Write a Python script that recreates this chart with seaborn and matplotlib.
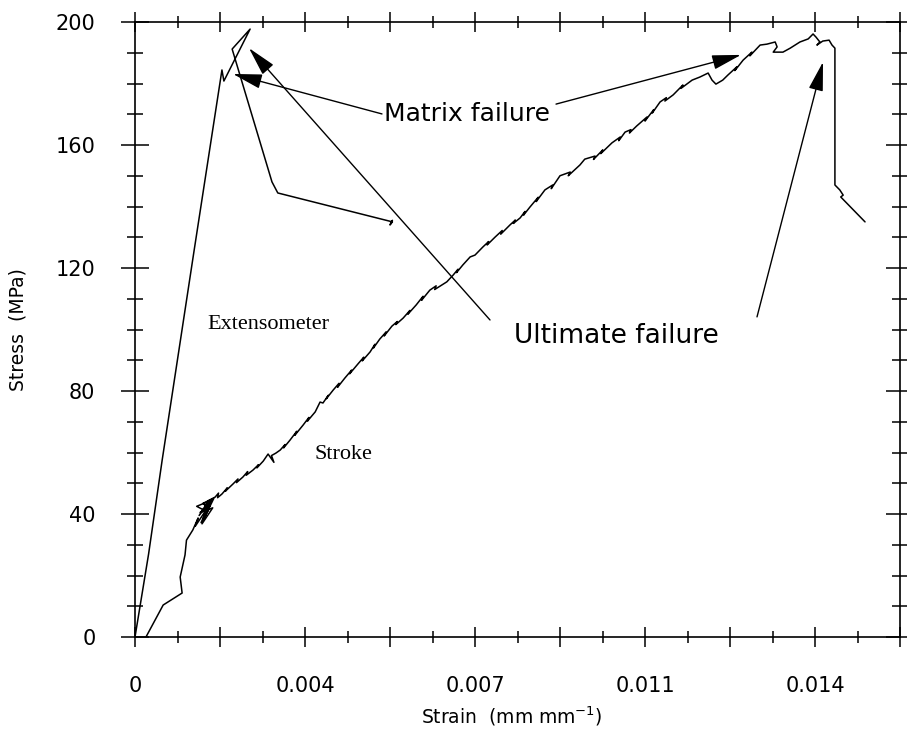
import numpy as np
import pandas as pd
import matplotlib
matplotlib.use("Agg")
import matplotlib.pyplot as plt
import seaborn as sns
from matplotlib.ticker import MultipleLocator

# ---- data ----
ext_strain = [0.0, 0.00028, 0.00056, 0.00122, 0.00179, 0.00183, 0.00237, 0.0020,
              0.00282, 0.00294, 0.0053, 0.00525, 0.0053, 0.00526]
ext_stress = [0.0, 27.0, 57.6, 126.0, 184.4, 180.8, 197.7, 191.2,
              148.0, 144.4, 135.0, 134.0, 135.5, 134.6]

stroke_strain = [
    0.000226, 0.00058, 0.00097, 0.00093, 0.00103, 0.00106, 0.00119, 0.0013,
    0.00124, 0.00145, 0.00127, 0.0015, 0.00132, 0.00158, 0.00136, 0.00152,
    0.0014, 0.00162, 0.00142, 0.00155, 0.00134, 0.0016, 0.00138, 0.00149,
    0.00165, 0.00172, 0.0017, 0.00179, 0.0019, 0.00186, 0.00202, 0.00212,
    0.00209, 0.00222, 0.00232, 0.00229, 0.00243, 0.00254, 0.00251, 0.00264,
    0.00274, 0.00286, 0.00281, 0.0029, 0.00299, 0.00309, 0.00306, 0.00319,
    0.00333, 0.00329, 0.00346, 0.00358, 0.00355, 0.00371, 0.00381, 0.00387,
    0.00398, 0.00394, 0.00408, 0.0042, 0.00417, 0.00432, 0.00446, 0.00442,
    0.00459, 0.00471, 0.00468, 0.00484, 0.00494, 0.00491, 0.00504, 0.00517,
    0.00513, 0.00529, 0.0054, 0.00537, 0.00552, 0.00566, 0.00562, 0.00579,
    0.00593, 0.0059, 0.00607, 0.0062, 0.00617, 0.00642, 0.00655, 0.00665,
    0.00662, 0.00675, 0.0069, 0.007, 0.00716, 0.00728, 0.00725, 0.00741,
    0.00756, 0.00753, 0.00772, 0.00783, 0.00779, 0.00793, 0.00803, 0.008,
    0.00813, 0.0083, 0.00826, 0.00844, 0.0086, 0.00857, 0.00875, 0.00896,
    0.00892, 0.00916, 0.00926, 0.00947, 0.00944, 0.00963, 0.00959, 0.00982,
    0.00999, 0.00996, 0.01009, 0.01021, 0.01018, 0.01033, 0.01054, 0.0105,
    0.01068, 0.01065, 0.01081, 0.01094, 0.01091, 0.01108, 0.01128, 0.01124,
    0.01147, 0.01163, 0.0118, 0.01188, 0.01196, 0.0121, 0.01221, 0.01239,
    0.01235, 0.01252, 0.0127, 0.01266, 0.01287, 0.01301, 0.01318, 0.01322,
    0.01314, 0.01334, 0.01349, 0.01369, 0.01386, 0.01396, 0.01402, 0.0141,
    0.01404, 0.01416, 0.01429, 0.01435, 0.01441, 0.01441, 0.01451, 0.01458,
    0.01453, 0.01503]
stroke_stress = [
    0.0, 10.4, 14.3, 19.5, 26.7, 31.5, 34.8, 38.7,
    36.0, 41.0, 42.5, 44.0, 39.5, 44.8, 37.2, 41.5,
    43.5, 45.0, 38.5, 43.0, 40.5, 42.0, 36.8, 44.2,
    45.5, 46.8, 45.3, 46.5, 48.5, 47.4, 49.8, 51.4,
    50.2, 52.0, 53.8, 52.6, 54.3, 56.0, 55.0, 57.2,
    59.5, 56.8, 59.0, 59.8, 60.8, 62.6, 61.5, 64.0,
    66.9, 65.6, 68.9, 71.4, 70.2, 73.2, 76.4, 76.1,
    78.6, 77.5, 80.3, 82.5, 81.2, 84.2, 86.8, 85.6,
    88.8, 91.0, 89.8, 92.7, 95.2, 94.0, 96.9, 99.2,
    97.9, 101.1, 102.6, 101.6, 103.7, 106.2, 105.0, 108.0,
    110.8, 109.5, 112.8, 114.2, 113.0, 115.5, 117.7, 119.6,
    118.5, 121.0, 123.6, 124.2, 126.8, 128.6, 127.5, 130.0,
    132.2, 131.0, 134.0, 135.6, 134.5, 136.3, 138.4, 137.2,
    139.8, 143.0, 141.6, 145.4, 147.0, 145.8, 150.0, 151.2,
    150.0, 153.5, 155.4, 156.4, 155.3, 158.4, 157.2, 160.7,
    162.6, 161.4, 164.2, 165.0, 163.9, 166.2, 169.1, 167.8,
    171.5, 170.4, 174.0, 175.4, 174.3, 176.3, 179.5, 178.4,
    181.1, 182.1, 183.4, 181.1, 179.8, 181.1, 182.8, 185.4,
    184.2, 187.6, 190.2, 189.0, 192.5, 192.8, 193.5, 191.9,
    190.2, 190.2, 191.5, 193.5, 194.5, 196.1, 195.1, 193.5,
    192.5, 193.8, 194.1, 192.5, 191.5, 147.0, 145.4, 143.7,
    143.1, 135.0]

xtick_pos = [0.0, 0.00175, 0.0035, 0.00525, 0.007, 0.00875, 0.0105, 0.01225, 0.014, 0.01575]
xtick_labels = ["0", "", "0.004", "", "0.007", "", "0.011", "", "0.014", ""]
ytick_pos = [0, 40, 80, 120, 160, 200]
ytick_labels = ["0", "40", "80", "120", "160", "200"]

df_ext = pd.DataFrame({"strain": ext_strain, "stress": ext_stress})
df_str = pd.DataFrame({"strain": stroke_strain, "stress": stroke_stress})

sns.set_style("ticks")
plt.rcParams["font.family"] = ["DejaVu Sans"]
plt.rcParams["text.color"] = "black"
plt.rcParams["axes.labelcolor"] = "black"

W, H = 907, 731
fig = plt.figure(figsize=(W / 100, H / 100), dpi=100)
ax = fig.add_axes([135 / W, 1 - 637 / H, 765 / W, 615 / H])

sns.lineplot(data=df_ext, x="strain", y="stress", sort=False, estimator=None,
             color="black", lw=1.1, ax=ax)
sns.lineplot(data=df_str, x="strain", y="stress", sort=False, estimator=None,
             color="black", lw=1.1, ax=ax)

ax.set_xlim(0, 0.01575)
ax.set_ylim(0, 200)
ax.set_xticks(xtick_pos)
ax.set_xticklabels(xtick_labels)
ax.set_yticks(ytick_pos)
ax.set_yticklabels(ytick_labels)
ax.xaxis.set_minor_locator(MultipleLocator(0.000875))
ax.yaxis.set_minor_locator(MultipleLocator(10))

for s in ax.spines.values():
    s.set_linewidth(1.2)
    s.set_color("black")

ax.tick_params(which="both", direction="inout", top=True, right=True,
               color="black", width=1.1, labelsize=15, labelcolor="black")
ax.tick_params(axis="x", which="major", length=14, pad=21)
ax.tick_params(axis="x", which="minor", length=8)
ax.tick_params(axis="y", which="major", length=20, pad=18.5)
ax.tick_params(axis="y", which="minor", length=11)

ax.set_xlabel("Strain  (mm mm$^{-1}$)", fontsize=13.5, color="black")
ax.set_ylabel("Stress  (MPa)", fontsize=13.5, color="black")
ax.xaxis.set_label_coords(0.493, -0.110)
ax.yaxis.set_label_coords(-0.140, 0.5)

# labels of curves
ax.text(0.002738, 101.5, "Extensometer", family="Liberation Serif", fontsize=16,
        ha="center", va="center", color="black")
ax.text(0.004282, 59.2, "Stroke", family="Liberation Serif", fontsize=16,
        ha="center", va="center", color="black")

# annotations
ax.text(0.006845, 170.1, "Matrix failure", fontsize=18, ha="center", va="center",
        color="black")
ax.text(0.009903, 97.9, "Ultimate failure", fontsize=19, ha="center", va="center",
        color="black")

aprops = dict(arrowstyle="-|>,head_length=1.8,head_width=0.45", mutation_scale=10,
              color="black", lw=1.0, shrinkA=0, shrinkB=0)
arrows = [((0.005085, 170.1), (0.002018, 183.1)),
          ((0.008668, 173.3), (0.012476, 189.3)),
          ((0.007309, 103.1), (0.002347, 191.5)),
          ((0.012806, 104.1), (0.014165, 187.0))]
for tail, tip in arrows:
    ax.annotate("", xy=tip, xytext=tail, arrowprops=aprops)

fig.savefig("out.png", dpi=100)
